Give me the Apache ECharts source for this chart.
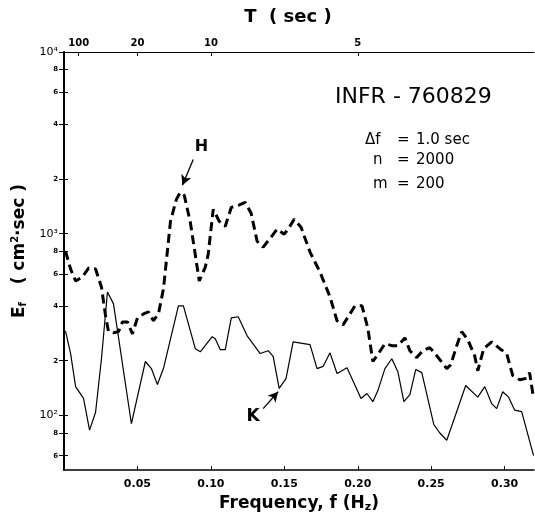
<!DOCTYPE html>
<html>
<head>
<meta charset="utf-8">
<script src="https://cdn.jsdelivr.net/npm/echarts@6/dist/echarts.min.js"></script>
<style>
html,body{margin:0;padding:0;background:#fff;}
#chart{width:535px;height:518px;}
</style>
</head>
<body>
<div id="chart"></div>
<script>
// Dashed curve H
const freqH = [0.001,0.0045,0.0079,0.0126,0.0167,0.0215,0.0255,0.0283,0.0303,0.0337,0.0371,0.0398,0.0432,0.0466,0.0500,0.0541,0.0575,0.0609,0.0643,0.0677,0.0725,0.0765,0.0792,0.0819,0.0860,0.0921,0.0962,0.0982,0.1016,0.1057,0.1098,0.1139,0.1186,0.1234,0.1274,0.1315,0.1356,0.1410,0.1451,0.1499,0.1526,0.1567,0.1614,0.1675,0.1743,0.1811,0.1859,0.1900,0.1947,0.1981,0.2029,0.2069,0.2103,0.2144,0.2185,0.2232,0.2273,0.2321,0.2355,0.2402,0.2443,0.2491,0.2538,0.2606,0.2633,0.2674,0.2708,0.2749,0.2796,0.2817,0.2858,0.2912,0.2967,0.3014,0.3055,0.3103,0.3150,0.3170,0.3197];
const valH = [802,639,549,578,647,639,509,353,289,285,289,327,327,281,344,362,371,332,362,496,1170,1545,1688,1625,1156,549,655,772,1362,1170,1099,1397,1433,1489,1295,909,844,957,1059,994,1059,1200,1086,792,615,449,332,315,362,401,401,300,198,221,248,242,242,267,227,208,227,236,213,181,190,242,289,261,213,176,233,254,233,219,166,157,160,172,124];
// Solid curve K
const freqK = [0.001,0.0045,0.0079,0.0133,0.0174,0.0215,0.0255,0.0296,0.0337,0.0459,0.0554,0.0595,0.0636,0.0677,0.0779,0.0813,0.0894,0.0928,0.1009,0.1030,0.1064,0.1098,0.1139,0.1186,0.1247,0.1336,0.1390,0.1424,0.1465,0.1512,0.1560,0.1675,0.1723,0.1764,0.1811,0.1859,0.1927,0.2022,0.2062,0.2103,0.2137,0.2185,0.2232,0.2273,0.2314,0.2355,0.2395,0.2436,0.2518,0.2559,0.2606,0.2674,0.2735,0.2817,0.2865,0.2912,0.2946,0.2987,0.3027,0.3068,0.3116,0.3197];
const valK = [292,219,144,124,83,104,205,478,411,90,198,181,148,181,401,401,233,224,271,264,230,230,344,349,274,219,227,211,141,160,254,245,181,186,221,170,183,124,132,119,137,181,205,174,119,130,179,172,89,80,73,105,146,126,144,116,109,135,126,107,105,60];

const bottomTicks = [0.05,0.10,0.15,0.20,0.25,0.30];
const bottomTickLabels = ['0.05','0.10','0.15','0.20','0.25','0.30'];
const topPeriods = [100,20,10,5];
const yTicks = [60,80,100,200,400,600,800,1000,2000,4000,6000,8000,10000];
const yTickLabels = ['6','8','10²','2','4','6','8','10³','2','4','6','8','10⁴'];

// annotation anchors [freq, E]
const labelH = [0.0935,3010];
const arrowH = [[0.0880,2560],[0.0806,1850]];
const labelK = [0.1288,99];
const arrowK = [[0.1356,109],[0.1458,135]];

const infoNames = ['Δf','n','m'];
const infoValues = ['1.0 sec','2000','200'];

const FONT = 'DejaVu Sans';
const chart = echarts.init(document.getElementById('chart'), null, {renderer:'canvas'});

function nearestIdx(arr, v){
  let b=0, bd=Infinity;
  arr.forEach((a,i)=>{const d=Math.abs(Math.log(a)-Math.log(v)); if(d<bd){bd=d;b=i;}});
  return b;
}
function nearestLin(arr, v){
  let b=0, bd=Infinity;
  arr.forEach((a,i)=>{const d=Math.abs(a-v); if(d<bd){bd=d;b=i;}});
  return b;
}

const yAxisCommon = {
  type:'log', logBase:10, min:50, max:10000,
  splitLine:{show:false},
  minorTick:{show:false}
};

const infoRowsY = [133,153,177];
const infoGraphics = [];
infoNames.forEach((n,i)=>{
  infoGraphics.push({type:'text', left: (i===0?365:373), top:infoRowsY[i], style:{text:n, font:'15px "DejaVu Sans"', fill:'#000'}});
  infoGraphics.push({type:'text', left:397, top:infoRowsY[i], style:{text:'=', font:'15px "DejaVu Sans"', fill:'#000'}});
  infoGraphics.push({type:'text', left:416, top:infoRowsY[i], style:{text:infoValues[i], font:'15px "DejaVu Sans"', fill:'#000'}});
});

const option = {
  animation:false,
  backgroundColor:'#fff',
  grid:{left:64, right:1, top:52, bottom:46},
  xAxis:[
    {
      type:'value', min:0, max:0.32, position:'bottom',
      name:'{a|Frequency, f (H}{s|z}{a|)}',
      nameLocation:'middle', nameGap:20,
      nameTextStyle:{rich:{
        a:{fontFamily:FONT, fontWeight:'bold', fontSize:17, color:'#000'},
        s:{fontFamily:FONT, fontWeight:'bold', fontSize:11, color:'#000', padding:[8,0,0,0]}
      }},
      axisLine:{show:true, lineStyle:{color:'#000', width:1.5}},
      axisTick:{show:true, inside:true, length:4, customValues:bottomTicks, lineStyle:{color:'#000', width:1}},
      axisLabel:{show:true, customValues:bottomTicks, margin:9,
        formatter:(v)=>bottomTickLabels[nearestLin(bottomTicks,v)],
        fontFamily:FONT, fontWeight:'bold', fontSize:11, color:'#000'},
      splitLine:{show:false}
    },
    {
      type:'value', min:0, max:0.32, position:'top',
      name:'T  ( sec )', nameLocation:'middle', nameGap:26,
      nameTextStyle:{fontFamily:FONT, fontWeight:'bold', fontSize:18, color:'#000', padding:[0,22,0,0]},
      axisLine:{show:true, lineStyle:{color:'#000', width:1.2}},
      axisTick:{show:true, inside:true, length:4, customValues:topPeriods.map(t=>1/t), lineStyle:{color:'#000'}},
      axisLabel:{show:true, customValues:topPeriods.map(t=>1/t), margin:4,
        formatter:(v)=>String(topPeriods[nearestLin(topPeriods.map(t=>1/t),v)]),
        fontFamily:FONT, fontWeight:'bold', fontSize:10, color:'#000'},
      splitLine:{show:false}
    }
  ],
  yAxis:[
    Object.assign({}, yAxisCommon, {
      position:'left',
      name:'{a|E}{s|f}{a|   ( cm}{p|2}{a|·sec )}',
      nameLocation:'middle', nameGap:34, nameRotate:90,
      nameTextStyle:{padding:[0,0,0,20], rich:{
        a:{fontFamily:FONT, fontWeight:'bold', fontSize:17, color:'#000'},
        s:{fontFamily:FONT, fontWeight:'bold', fontSize:10, color:'#000', padding:[8,0,0,0]},
        p:{fontFamily:FONT, fontWeight:'bold', fontSize:10, color:'#000', padding:[0,0,8,0]}
      }},
      axisLine:{show:true, lineStyle:{color:'#000', width:2}},
      axisTick:{show:true, inside:true, length:4, customValues:yTicks, lineStyle:{color:'#000'}},
      axisLabel:{show:true, customValues:yTicks, margin:6,
        formatter:(v)=>{const i=nearestIdx(yTicks,v); const s=yTickLabels[i]; return s.length>1?'{b|'+s+'}':'{m|'+s+'}';},
        rich:{
          b:{fontFamily:FONT, fontSize:11, color:'#000'},
          m:{fontFamily:FONT, fontWeight:'bold', fontSize:7, color:'#000'}
        }}
    }),
    Object.assign({}, yAxisCommon, {
      position:'right',
      axisLine:{show:true, lineStyle:{color:'#000', width:1}},
      axisTick:{show:true, inside:true, length:5, customValues:yTicks, lineStyle:{color:'#000'}},
      axisLabel:{show:false}
    })
  ],
  series:[
    {
      name:'H', type:'line', xAxisIndex:0, yAxisIndex:0,
      data:freqH.map((f,i)=>[f,valH[i]]),
      showSymbol:false, symbol:'none', smooth:false,
      lineStyle:{color:'#000', width:3, type:[9,5]},
      markLine:{
        silent:true, symbol:['none','arrow'], symbolSize:[8,10],
        label:{show:false},
        lineStyle:{color:'#000', width:1.3, type:'solid'},
        data:[[{coord:arrowH[0]},{coord:arrowH[1]}]]
      },
      markPoint:{
        silent:true, symbol:'circle', symbolSize:0,
        label:{show:true, position:'inside', formatter:'H', fontFamily:FONT, fontWeight:'bold', fontSize:16, color:'#000'},
        data:[{coord:labelH}]
      }
    },
    {
      name:'K', type:'line', xAxisIndex:0, yAxisIndex:0,
      data:freqK.map((f,i)=>[f,valK[i]]),
      showSymbol:false, symbol:'none', smooth:false,
      lineStyle:{color:'#000', width:1.2, type:'solid'},
      markLine:{
        silent:true, symbol:['none','arrow'], symbolSize:[8,10],
        label:{show:false},
        lineStyle:{color:'#000', width:1.3, type:'solid'},
        data:[[{coord:arrowK[0]},{coord:arrowK[1]}]]
      },
      markPoint:{
        silent:true, symbol:'circle', symbolSize:0,
        label:{show:true, position:'inside', formatter:'K', fontFamily:FONT, fontWeight:'bold', fontSize:17, color:'#000'},
        data:[{coord:labelK}]
      }
    }
  ],
  graphic:[
    {type:'text', left:335, top:86, style:{text:'INFR - 760829', font:'22px "DejaVu Sans"', fill:'#000'}}
  ].concat(infoGraphics)
};
chart.setOption(option);
</script>
</body>
</html>
